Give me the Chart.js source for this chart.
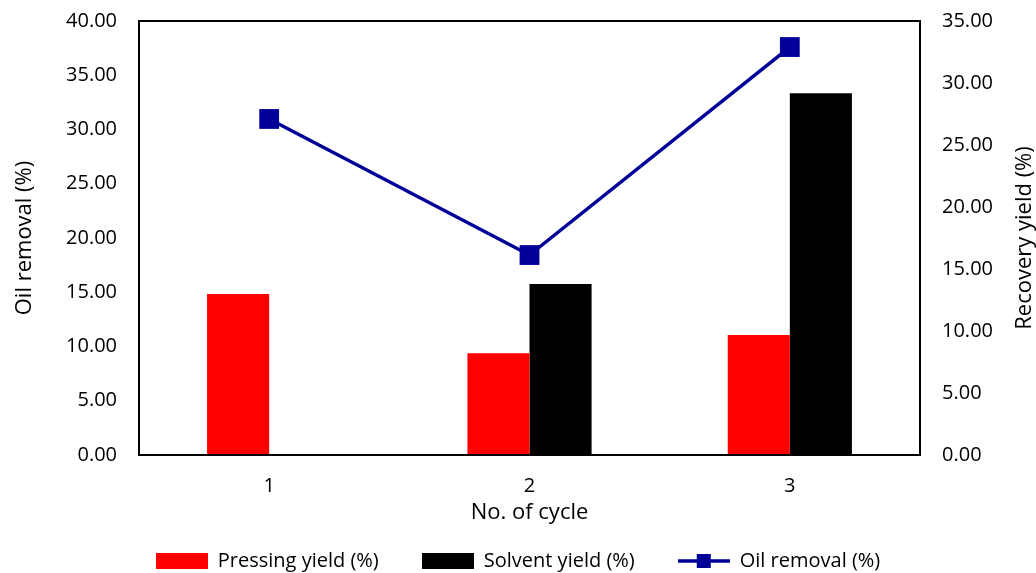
<!DOCTYPE html>
<html>
<head>
<meta charset="utf-8">
<title>Oil removal and recovery yield</title>
<script src="https://cdn.jsdelivr.net/npm/chart.js@4.4.1/dist/chart.umd.min.js"></script>
<style>
    html, body { margin: 0; padding: 0; background: #fff; }
    #wrap { width: 1036px; height: 573px; }
</style>
</head>
<body>
<div id="wrap"><canvas id="yieldChart" width="1036" height="573"></canvas></div>
<script>
// Chart data
const cycles = ['1', '2', '3'];
const pressingYield = [12.98, 8.2, 9.68];
const solventYield = [0, 13.79, 29.17];
const oilRemoval = [30.97, 18.43, 37.6];
const leftTicks = [0, 5, 10, 15, 20, 25, 30, 35, 40];
const rightTicks = [0, 5, 10, 15, 20, 25, 30, 35];

const FONT = "'Open Sans', 'Liberation Sans', sans-serif";
const NAVY = '#000099';

// legend icons (box for bars, line + square for the line series)
function boxIcon(color) {
    const c = document.createElement('canvas');
    c.width = 52; c.height = 16;
    const g = c.getContext('2d');
    g.fillStyle = color;
    g.fillRect(0, 0, 52, 16);
    return c;
}
function lineIcon(color) {
    const c = document.createElement('canvas');
    c.width = 52; c.height = 20;
    const g = c.getContext('2d');
    g.strokeStyle = color;
    g.lineWidth = 3.5;
    g.beginPath();
    g.moveTo(0, 10);
    g.lineTo(52, 10);
    g.stroke();
    g.fillStyle = color;
    g.fillRect(19, 3, 14, 14);
    return c;
}
const legendIcons = [boxIcon('#ff0000'), boxIcon('#000000'), lineIcon(NAVY)];

// frame around the plot area + right axis title (reads bottom to top)
const framePlugin = {
    id: 'frame',
    afterDatasetsDraw(chart) {
        const { ctx, chartArea: a } = chart;
        ctx.save();
        ctx.strokeStyle = '#000';
        ctx.lineWidth = 2;
        ctx.strokeRect(a.left, a.top, a.right - a.left, a.bottom - a.top);
        ctx.restore();
    },
    afterDraw(chart) {
        const { ctx, chartArea: a } = chart;
        ctx.save();
        ctx.translate(1025, (a.top + a.bottom) / 2);
        ctx.rotate(-Math.PI / 2);
        ctx.font = `22px ${FONT}`;
        ctx.fillStyle = '#000';
        ctx.textAlign = 'center';
        ctx.textBaseline = 'middle';
        ctx.fillText('Recovery yield (%)', 0, 0);
        ctx.restore();
    }
};

// fixed side widths, and no extra top/bottom padding from tick labels
function fixWidth(w) {
    return scale => {
        scale.width = w;
        scale.paddingTop = 0;
        scale.paddingBottom = 0;
    };
}

const ctx = document.getElementById('yieldChart').getContext('2d');
new Chart(ctx, {
    type: 'bar',
    data: {
        labels: cycles,
        datasets: [{
            label: 'Pressing yield (%)',
            data: pressingYield,
            backgroundColor: '#ff0000',
            yAxisID: 'y1',
            order: 2
        }, {
            label: 'Solvent yield (%)',
            data: solventYield,
            backgroundColor: '#000000',
            yAxisID: 'y1',
            order: 2
        }, {
            type: 'line',
            label: 'Oil removal (%)',
            data: oilRemoval,
            borderColor: NAVY,
            backgroundColor: NAVY,
            borderWidth: 3.5,
            pointStyle: 'rect',
            pointRadius: 14,
            pointHoverRadius: 14,
            pointBorderWidth: 0,
            tension: 0,
            yAxisID: 'y',
            order: 1
        }]
    },
    options: {
        responsive: false,
        animation: false,
        layout: { padding: { top: 21, left: 0, right: 0, bottom: -8 } },
        datasets: {
            bar: { barPercentage: 1, categoryPercentage: 0.477 }
        },
        scales: {
            x: {
                grid: { display: false, drawTicks: false },
                border: { display: false },
                ticks: { color: '#000', padding: 19, font: { family: FONT, size: 20 } },
                title: {
                    display: true, text: 'No. of cycle', color: '#000',
                    font: { family: FONT, size: 22 }, padding: { top: 0, bottom: -18 }
                },
                afterFit: scale => { scale.height = 53; }
            },
            y: {
                position: 'left',
                min: 0, max: 40,
                grid: { display: false, drawTicks: false },
                border: { display: false },
                afterBuildTicks: scale => { scale.ticks = leftTicks.map(v => ({ value: v })); },
                ticks: {
                    color: '#000', padding: 22, font: { family: FONT, size: 20 },
                    callback: v => Number(v).toFixed(2)
                },
                title: {
                    display: true, text: 'Oil removal (%)', color: '#000',
                    font: { family: FONT, size: 22 }, padding: { top: 12, bottom: 0 }
                },
                afterFit: fixWidth(139)
            },
            y1: {
                position: 'right',
                min: 0, max: 35,
                grid: { display: false, drawTicks: false },
                border: { display: false },
                afterBuildTicks: scale => { scale.ticks = rightTicks.map(v => ({ value: v })); },
                ticks: {
                    color: '#000', padding: 22, font: { family: FONT, size: 20 },
                    callback: v => Number(v).toFixed(2)
                },
                afterFit: fixWidth(116)
            }
        },
        plugins: {
            tooltip: { enabled: false },
            legend: {
                position: 'bottom',
                labels: {
                    usePointStyle: true,
                    pointStyleWidth: 52,
                    padding: 43,
                    color: '#000',
                    font: { family: FONT, size: 20 },
                    sort: (a, b) => a.datasetIndex - b.datasetIndex,
                    generateLabels: chart => {
                        const items = Chart.defaults.plugins.legend.labels.generateLabels(chart);
                        items.forEach(item => { item.pointStyle = legendIcons[item.datasetIndex]; });
                        return items;
                    }
                }
            }
        }
    },
    plugins: [framePlugin]
});
</script>
</body>
</html>
